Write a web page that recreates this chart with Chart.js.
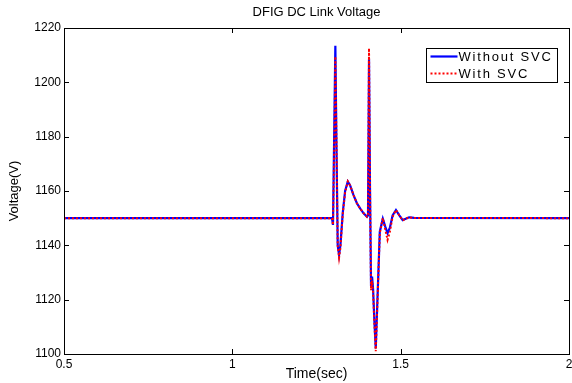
<!DOCTYPE html>
<html>
<head>
<meta charset="utf-8">
<script src="https://cdn.jsdelivr.net/npm/chart.js@4.4.1/dist/chart.umd.min.js"></script>
<style>
  html, body { margin: 0; padding: 0; background: #fff; }
  #wrap { width: 572px; height: 383px; }
</style>
</head>
<body>
<div id="wrap"><canvas id="chart"></canvas></div>
<script>
// time axis (sec) shared by both traces
const timeSec = [0.5, 1.296, 1.299, 1.303, 1.306, 1.309, 1.313, 1.317, 1.321, 1.328,
  1.335, 1.343, 1.350, 1.360, 1.370, 1.380, 1.390, 1.400, 1.403, 1.406,
  1.409, 1.412, 1.415, 1.418, 1.422, 1.426, 1.431, 1.438, 1.447, 1.454,
  1.461, 1.468, 1.476, 1.486, 1.496, 1.506, 1.515, 1.525, 1.540, 2.0];

// DC link voltage (V)
const withoutSvc = [1150, 1150, 1147.5, 1185, 1213.5, 1180, 1140, 1136.5, 1140, 1152,
  1160, 1163.5, 1162, 1158.5, 1155.5, 1153.5, 1151.8, 1150.5, 1151, 1208.5,
  1160, 1125, 1128.5, 1124, 1112, 1102, 1120, 1145, 1149.8, 1147,
  1144.5, 1146.5, 1151, 1153, 1151, 1149.3, 1149.8, 1150.3, 1150.1, 1150];

const withSvc = [1150, 1150, 1147.5, 1180, 1209.5, 1182, 1140, 1135.5, 1139, 1151.5,
  1159.5, 1163.5, 1162, 1158.5, 1155.5, 1153.5, 1151.8, 1150.5, 1151, 1212.5,
  1162, 1123.5, 1127, 1123, 1111, 1101, 1119, 1144.5, 1150, 1146,
  1142, 1145, 1150.5, 1153, 1151, 1149.2, 1149.8, 1150.3, 1150.1, 1150];

const xTicks = [0.5, 1, 1.5, 2];
const yTicks = [1100, 1120, 1140, 1160, 1180, 1200, 1220];
const chartTitle = 'DFIG DC Link Voltage';

const FONT = "'Liberation Sans', Arial, sans-serif";

function toPoints(ys) {
  return timeSec.map((t, i) => ({ x: t, y: ys[i] }));
}

// matlab style box with inward ticks, title over the axes, legend top right
const matlabBox = {
  id: 'matlabBox',
  afterDraw(chart) {
    const { ctx, chartArea: a, scales } = chart;
    ctx.save();
    ctx.strokeStyle = '#000';
    ctx.lineWidth = 1;
    ctx.strokeRect(Math.round(a.left) + 0.5, Math.round(a.top) + 0.5,
      Math.round(a.right - a.left), Math.round(a.bottom - a.top));

    const len = 5;
    ctx.beginPath();
    xTicks.forEach(v => {
      const px = Math.round(scales.x.getPixelForValue(v)) + 0.5;
      ctx.moveTo(px, a.bottom); ctx.lineTo(px, a.bottom - len);
      ctx.moveTo(px, a.top); ctx.lineTo(px, a.top + len);
    });
    yTicks.forEach(v => {
      const py = Math.round(scales.y.getPixelForValue(v)) + 0.5;
      ctx.moveTo(a.left, py); ctx.lineTo(a.left + len, py);
      ctx.moveTo(a.right, py); ctx.lineTo(a.right - len, py);
    });
    ctx.stroke();

    // title centred on the axes box
    ctx.fillStyle = '#000';
    ctx.font = '13px ' + FONT;
    ctx.textAlign = 'center';
    ctx.textBaseline = 'middle';
    ctx.fillText(chartTitle, (a.left + a.right) / 2, 12);

    // legend
    const bx = 426.5, by = 48.5, bw = 131, bh = 34;
    ctx.fillStyle = '#fff';
    ctx.fillRect(bx, by, bw, bh);
    ctx.strokeRect(bx, by, bw, bh);
    ctx.font = '13px ' + FONT;
    ctx.letterSpacing = '1.8px';
    ctx.textAlign = 'left';
    ctx.fillStyle = '#000';
    const rows = [chart.data.datasets[1], chart.data.datasets[0]];
    rows.forEach((ds, i) => {
      const y = by + 8 + i * 17;
      ctx.beginPath();
      ctx.strokeStyle = ds.borderColor;
      ctx.lineWidth = ds.borderWidth;
      ctx.setLineDash(ds.borderDash || []);
      ctx.moveTo(bx + 4, y); ctx.lineTo(bx + 31, y);
      ctx.stroke();
      ctx.setLineDash([]);
      ctx.fillText(ds.label, bx + 32, y + 1);
    });
    ctx.restore();
  }
};

new Chart(document.getElementById('chart'), {
  type: 'line',
  data: {
    datasets: [
      {
        label: 'With SVC',
        data: toPoints(withSvc),
        borderColor: '#ff0000',
        borderWidth: 2,
        borderDash: [2, 2],
        pointRadius: 0,
        tension: 0,
        order: 0
      },
      {
        label: 'Without SVC',
        data: toPoints(withoutSvc),
        borderColor: '#0000ff',
        borderWidth: 2.2,
        pointRadius: 0,
        tension: 0,
        order: 1
      }
    ]
  },
  options: {
    responsive: true,
    maintainAspectRatio: false,
    animation: false,
    layout: { padding: { left: 0, right: 0, top: 28, bottom: 0 } },
    plugins: {
      legend: { display: false },
      tooltip: { enabled: false },
      title: { display: false }
    },
    scales: {
      x: {
        type: 'linear',
        min: 0.5,
        max: 2,
        afterBuildTicks: s => { s.ticks = xTicks.map(v => ({ value: v })); },
        afterFit: s => { s.height = 29; s.paddingRight = 3; },
        grid: { display: false, drawTicks: false },
        border: { display: false },
        ticks: {
          color: '#000',
          padding: 3,
          font: { family: FONT, size: 12 },
          callback: v => String(v)
        },
        title: {
          display: true,
          text: 'Time(sec)',
          color: '#000',
          font: { family: FONT, size: 14 },
          padding: { top: 0, bottom: 0 }
        }
      },
      y: {
        min: 1100,
        max: 1220,
        afterBuildTicks: s => { s.ticks = yTicks.map(v => ({ value: v })); },
        afterFit: s => { s.width = 64; },
        grid: { display: false, drawTicks: false },
        border: { display: false },
        ticks: {
          color: '#000',
          padding: 3,
          font: { family: FONT, size: 12 },
          callback: v => String(v)
        },
        title: {
          display: true,
          text: 'Voltage(V)',
          color: '#000',
          font: { family: FONT, size: 13 },
          padding: { top: 7, bottom: 0 }
        }
      }
    }
  },
  plugins: [matlabBox]
});
</script>
</body>
</html>
